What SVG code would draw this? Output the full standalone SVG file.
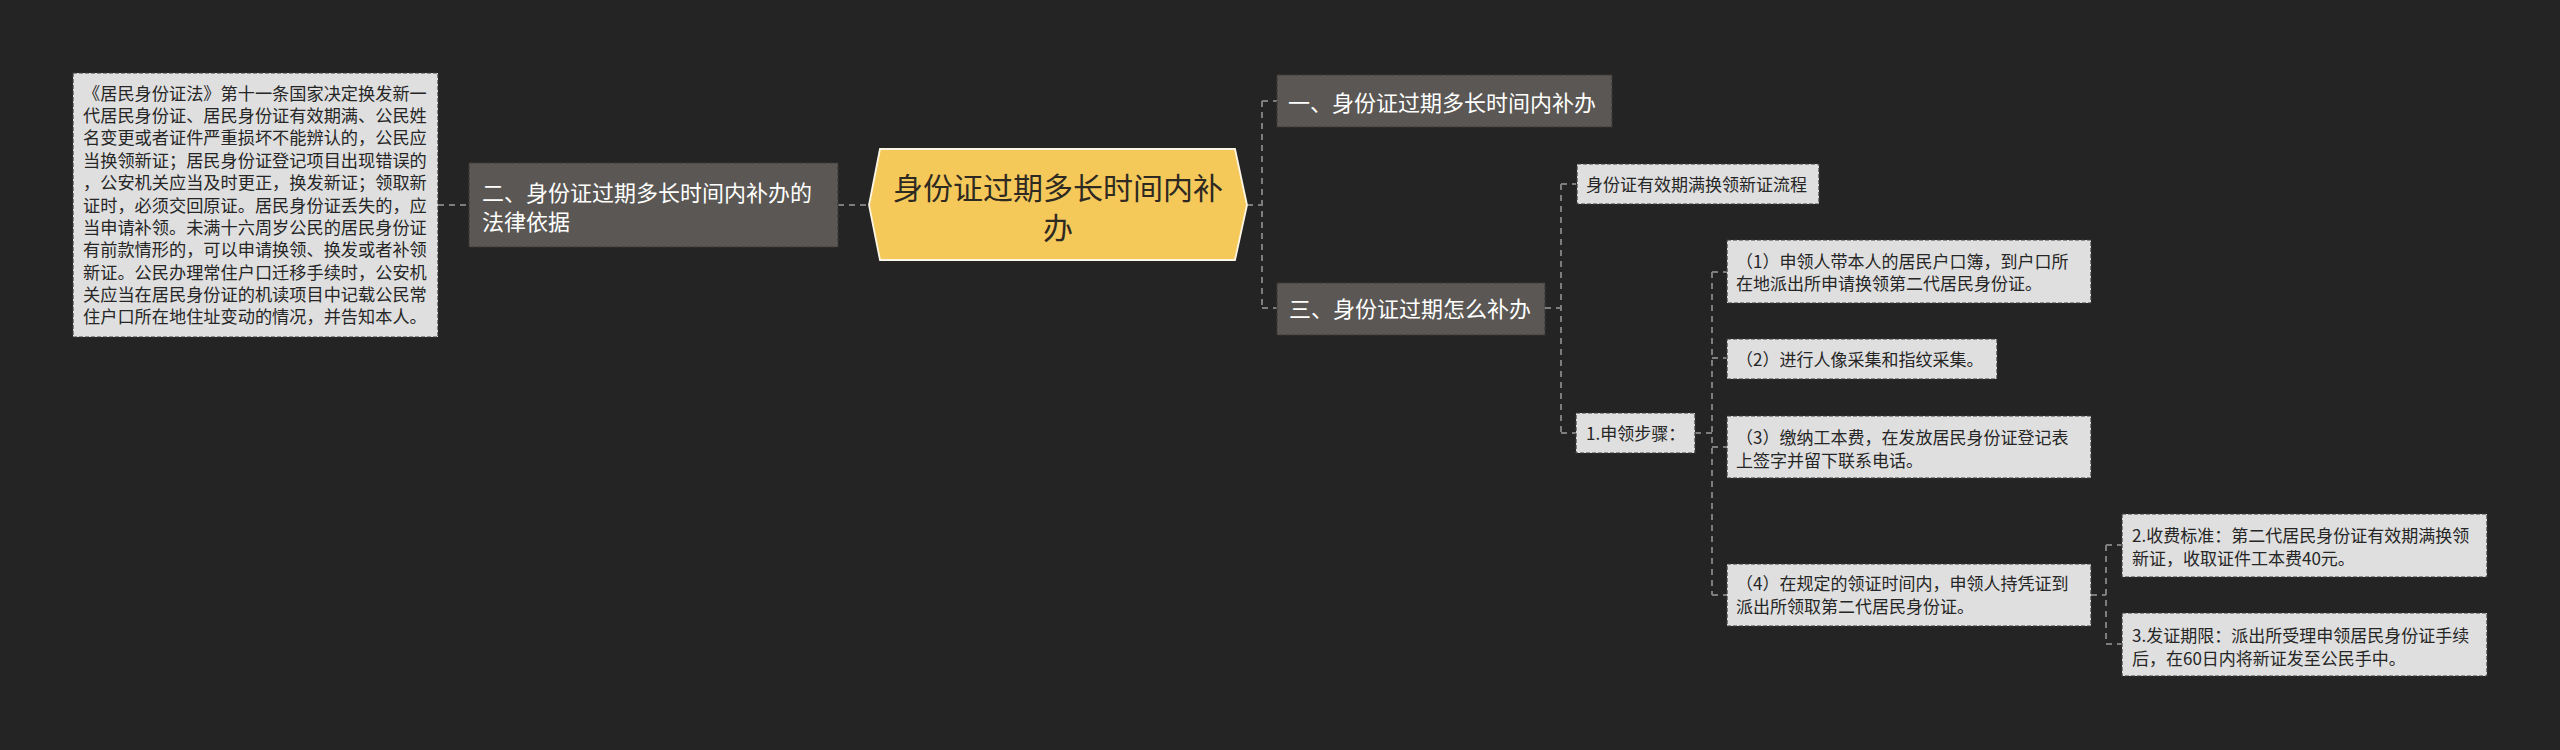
<svg xmlns="http://www.w3.org/2000/svg" width="2560" height="750" viewBox="0 0 2560 750">
<defs>
<style>
text{font-family:"Noto Sans CJK SC","Noto Sans",sans-serif;}
.light rect{fill:#dfdfdf;stroke:#3a3a3a;stroke-width:1.2;stroke-dasharray:4 2;}
.light text{fill:#262626;font-size:17px;}
.dark rect{fill:#5a5754;stroke:#3c3a38;stroke-width:1.2;stroke-dasharray:4 2;}
.dark text{fill:#ffffff;font-size:22px;}
.conn path{fill:none;stroke:#7d7d7d;stroke-width:2;stroke-dasharray:6 5;}
</style>
</defs>
<rect x="0" y="0" width="2560" height="750" fill="#242424"/>
<g class="conn">
<path d="M438 205 H469"/>
<path d="M838 205 H869"/>
<path d="M1247 205 H1262 M1262 101 V308 M1262 101 H1277 M1262 308 H1277"/>
<path d="M1545 308 H1561 M1561 184 V433 M1561 184 H1576 M1561 433 H1576"/>
<path d="M1695 433 H1712 M1712 272 V595 M1712 272 H1727 M1712 358 H1727 M1712 447 H1727 M1712 595 H1727"/>
<path d="M2091 595 H2106 M2106 545 V644 M2106 545 H2122 M2106 644 H2122"/>
</g>
<g id="node-law" class="light">
<rect x="73" y="73" width="365" height="264"/>
<text x="83" y="99.5" style="font-size:17.2px">
<tspan x="83">《居民身份证法》第十一条国家决定换发新一</tspan>
<tspan x="83" dy="22.4">代居民身份证、居民身份证有效期满、公民姓</tspan>
<tspan x="83" dy="22.4">名变更或者证件严重损坏不能辨认的，公民应</tspan>
<tspan x="83" dy="22.4">当换领新证；居民身份证登记项目出现错误的</tspan>
<tspan x="83" dy="22.4">，公安机关应当及时更正，换发新证；领取新</tspan>
<tspan x="83" dy="22.4">证时，必须交回原证。居民身份证丢失的，应</tspan>
<tspan x="83" dy="22.4">当申请补领。未满十六周岁公民的居民身份证</tspan>
<tspan x="83" dy="22.4">有前款情形的，可以申请换领、换发或者补领</tspan>
<tspan x="83" dy="22.4">新证。公民办理常住户口迁移手续时，公安机</tspan>
<tspan x="83" dy="22.4">关应当在居民身份证的机读项目中记载公民常</tspan>
<tspan x="83" dy="22.4">住户口所在地住址变动的情况，并告知本人。</tspan>
</text>
</g>
<g id="node-2" class="dark">
<rect x="469" y="163" width="369" height="84"/>
<text x="482" y="201.4"><tspan x="482">二、身份证过期多长时间内补办的</tspan><tspan x="482" dy="29">法律依据</tspan></text>
</g>
<g id="node-center">
<polygon points="869,205 880,149 1235,149 1247,205 1235,260 880,260" fill="#f5c85a" stroke="#fdf6e6" stroke-width="1.8"/>
<text x="1058" y="198.5" text-anchor="middle" fill="#2e2a22" style="font-size:30px"><tspan x="1058">身份证过期多长时间内补</tspan><tspan x="1058" dy="40">办</tspan></text>
</g>
<g id="node-1" class="dark">
<rect x="1277" y="75" width="335" height="52"/>
<text x="1288" y="110.5">一、身份证过期多长时间内补办</text>
</g>
<g id="node-3" class="dark">
<rect x="1277" y="283" width="268" height="52"/>
<text x="1289" y="317">三、身份证过期怎么补办</text>
</g>
<g id="node-flow" class="light">
<rect x="1577" y="164" width="242" height="40"/>
<text x="1586" y="190.5">身份证有效期满换领新证流程</text>
</g>
<g id="node-steps" class="light">
<rect x="1576" y="413" width="119" height="40"/>
<text x="1586" y="439.5">1.申领步骤：</text>
</g>
<g id="node-s1" class="light">
<rect x="1727" y="240" width="364" height="63"/>
<text x="1736" y="268"><tspan x="1736">（1）申领人带本人的居民户口簿，到户口所</tspan><tspan x="1736" dy="22">在地派出所申请换领第二代居民身份证。</tspan></text>
</g>
<g id="node-s2" class="light">
<rect x="1727" y="339" width="270" height="40"/>
<text x="1736" y="365.5">（2）进行人像采集和指纹采集。</text>
</g>
<g id="node-s3" class="light">
<rect x="1727" y="416" width="364" height="62"/>
<text x="1736" y="444"><tspan x="1736">（3）缴纳工本费，在发放居民身份证登记表</tspan><tspan x="1736" dy="22.5">上签字并留下联系电话。</tspan></text>
</g>
<g id="node-s4" class="light">
<rect x="1727" y="564" width="364" height="62"/>
<text x="1736" y="590"><tspan x="1736">（4）在规定的领证时间内，申领人持凭证到</tspan><tspan x="1736" dy="23">派出所领取第二代居民身份证。</tspan></text>
</g>
<g id="node-fee" class="light">
<rect x="2122" y="514" width="365" height="63"/>
<text x="2132" y="542"><tspan x="2132">2.收费标准：第二代居民身份证有效期满换领</tspan><tspan x="2132" dy="22.5">新证，收取证件工本费40元。</tspan></text>
</g>
<g id="node-period" class="light">
<rect x="2122" y="613" width="365" height="63"/>
<text x="2132" y="642"><tspan x="2132">3.发证期限：派出所受理申领居民身份证手续</tspan><tspan x="2132" dy="22.5">后，在60日内将新证发至公民手中。</tspan></text>
</g>
</svg>
